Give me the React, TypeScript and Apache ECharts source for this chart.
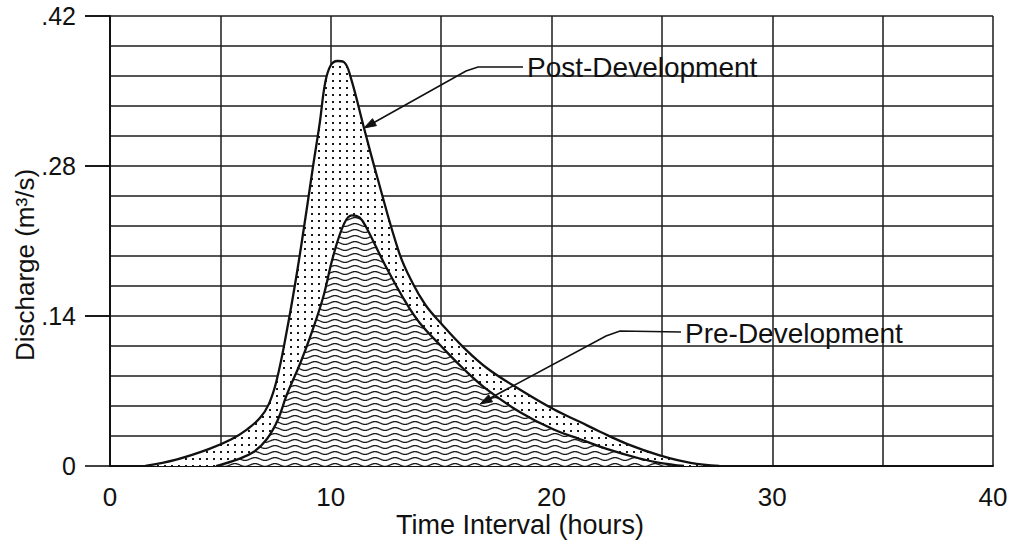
import React, { useEffect, useRef } from 'react';
import * as echarts from 'echarts';

// Post-development hydrograph (time in hours, discharge in m³/s)
const postTime = [1.6, 3.0, 4.5, 5.5, 6.2, 6.8, 7.2, 7.55, 8.0, 8.45, 8.9, 9.2, 9.5, 9.75, 10.0, 10.3, 10.6, 10.9, 11.5, 12.1, 13.1, 13.7, 14.3, 15.0, 16.0, 17.1, 18.6, 20.1, 21.3, 22.2, 23.5, 24.9, 26.3, 27.6];
const postFlow = [0, 0.006, 0.016, 0.025, 0.034, 0.045, 0.058, 0.08, 0.125, 0.178, 0.238, 0.28, 0.32, 0.358, 0.374, 0.378, 0.377, 0.363, 0.316, 0.27, 0.199, 0.171, 0.150, 0.133, 0.111, 0.091, 0.071, 0.053, 0.041, 0.032, 0.020, 0.010, 0.003, 0];

// Pre-development hydrograph
const preTime = [4.8, 5.75, 6.5, 7.1, 7.6, 8.0, 8.6, 9.06, 9.65, 10.1, 10.6, 10.96, 11.3, 11.6, 12.5, 13.45, 14.05, 14.95, 16.0, 17.1, 18.6, 20.1, 21.3, 22.5, 24.0, 24.9, 26.0];
const preFlow = [0, 0.006, 0.013, 0.025, 0.043, 0.066, 0.095, 0.12, 0.157, 0.195, 0.226, 0.234, 0.232, 0.223, 0.186, 0.151, 0.133, 0.113, 0.091, 0.071, 0.050, 0.034, 0.025, 0.016, 0.007, 0.003, 0];

const xTickValues = [0, 10, 20, 30, 40];
const yTickValues = [0, 0.14, 0.28, 0.42];
const yMax = 0.42;

const FONT = '"Liberation Sans", Arial, Helvetica, sans-serif';
const INK = '#111';

const GRID = { left: 110, right: 23, top: 16, bottom: 80 };
const W = 1016;
const H = 546;

function makeDots(): HTMLCanvasElement {
  const c = document.createElement('canvas');
  c.width = 7;
  c.height = 7;
  const g = c.getContext('2d')!;
  g.fillStyle = '#fff';
  g.fillRect(0, 0, 7, 7);
  g.fillStyle = '#1a1a1a';
  g.fillRect(3, 3, 2, 2);
  return c;
}

function makeWaves(): HTMLCanvasElement {
  const w = 20;
  const h = 6;
  const c = document.createElement('canvas');
  c.width = w;
  c.height = h;
  const g = c.getContext('2d')!;
  g.fillStyle = '#fff';
  g.fillRect(0, 0, w, h);
  g.strokeStyle = '#1a1a1a';
  g.lineWidth = 1.3;
  g.beginPath();
  for (let x = 0; x <= w; x += 0.5) {
    const y = 3 + 1.4 * Math.sin((2 * Math.PI * x) / w);
    if (x === 0) g.moveTo(x, y);
    else g.lineTo(x, y);
  }
  g.stroke();
  return c;
}

function arrowHead(tip: number[], from: number[], len = 12, half = 4) {
  const dx = tip[0] - from[0];
  const dy = tip[1] - from[1];
  const l = Math.hypot(dx, dy);
  const ux = dx / l;
  const uy = dy / l;
  const bx = tip[0] - ux * len;
  const by = tip[1] - uy * len;
  return [
    [tip[0], tip[1]],
    [bx - uy * half, by + ux * half],
    [bx + uy * half, by - ux * half],
  ];
}

export default function App() {
  const ref = useRef<HTMLDivElement>(null);
  const tickRef = useRef<HTMLDivElement>(null);

  useEffect(() => {
    if (!ref.current || !tickRef.current) return;
    const chart = echarts.init(ref.current, undefined, { renderer: 'svg' });
    const tickChart = echarts.init(tickRef.current, undefined, { renderer: 'svg' });

    const postData = postTime.map((t, i) => [t, postFlow[i]]);
    const preData = preTime.map((t, i) => [t, preFlow[i]]);

    const postLine = [[523, 67], [478, 67], [466, 71], [366, 127]];
    const postTip = [364, 128];
    const preLine = [[681, 332], [620, 331], [606, 336], [483, 402]];
    const preTip = [480, 404];

    const gridLine = { color: '#1c1c1c', width: 1.5 };

    chart.setOption({
      animation: false,
      grid: { ...GRID },
      xAxis: {
        type: 'value',
        min: 0,
        max: 40,
        interval: 10,
        axisLine: { show: true, lineStyle: { color: INK, width: 2 } },
        axisTick: { show: false },
        axisLabel: {
          margin: 18,
          fontSize: 26,
          fontFamily: FONT,
          color: INK,
          formatter: (v: number) => (xTickValues.includes(v) ? String(v) : ''),
        },
        splitLine: { show: true, lineStyle: { ...gridLine } },
        minorSplitLine: { show: true, lineStyle: { ...gridLine } },
        minorTick: { splitNumber: 2 },
      },
      yAxis: {
        type: 'value',
        min: 0,
        max: yMax,
        interval: 0.14,
        axisLine: { show: true, lineStyle: { color: INK, width: 2 } },
        axisTick: { show: true, length: 25, lineStyle: { color: INK, width: 1.6 } },
        axisLabel: {
          margin: 34,
          fontSize: 25,
          fontFamily: FONT,
          color: INK,
          formatter: (v: number) => {
            const hit = yTickValues.find((t) => Math.abs(t - v) < 1e-6);
            if (hit === undefined) return '';
            return hit === 0 ? '0' : hit.toFixed(2).replace(/^0/, '');
          },
        },
        splitLine: { show: true, lineStyle: { ...gridLine } },
        minorSplitLine: { show: true, lineStyle: { ...gridLine } },
        minorTick: { splitNumber: 5 },
      },
      series: [
        {
          name: 'Post-Development',
          type: 'line',
          data: postData,
          smooth: 0.4,
          symbol: 'none',
          z: 3,
          lineStyle: { color: INK, width: 2.3 },
          areaStyle: { color: { image: makeDots(), repeat: 'repeat' }, opacity: 1 },
        },
        {
          name: 'Pre-Development',
          type: 'line',
          data: preData,
          smooth: 0.4,
          symbol: 'none',
          z: 4,
          lineStyle: { color: INK, width: 2.3 },
          areaStyle: { color: { image: makeWaves(), repeat: 'repeat' }, opacity: 1 },
        },
      ],
      graphic: [
        {
          type: 'text',
          x: 25,
          y: 265,
          rotation: Math.PI / 2,
          style: {
            text: 'Discharge (m³/s)',
            font: `26px ${FONT}`,
            fill: INK,
            align: 'center',
            verticalAlign: 'middle',
          },
          z: 10,
        },
        {
          type: 'text',
          x: 520,
          y: 525,
          style: {
            text: 'Time Interval (hours)',
            font: `27px ${FONT}`,
            fill: INK,
            align: 'center',
            verticalAlign: 'middle',
          },
          z: 10,
        },
        {
          type: 'text',
          x: 527,
          y: 67,
          style: {
            text: 'Post-Development',
            font: `28px ${FONT}`,
            fill: INK,
            align: 'left',
            verticalAlign: 'middle',
          },
          z: 10,
        },
        {
          type: 'text',
          x: 685,
          y: 333,
          style: {
            text: 'Pre-Development',
            font: `28px ${FONT}`,
            fill: INK,
            align: 'left',
            verticalAlign: 'middle',
          },
          z: 10,
        },
        {
          type: 'polyline',
          shape: { points: postLine },
          style: { stroke: INK, lineWidth: 1.6, fill: 'none' },
          z: 10,
        },
        {
          type: 'polygon',
          shape: { points: arrowHead(postTip, postLine[postLine.length - 2]) },
          style: { fill: INK, stroke: INK, lineWidth: 1 },
          z: 10,
        },
        {
          type: 'polyline',
          shape: { points: preLine },
          style: { stroke: INK, lineWidth: 1.6, fill: 'none' },
          z: 10,
        },
        {
          type: 'polygon',
          shape: { points: arrowHead(preTip, preLine[preLine.length - 2]) },
          style: { fill: INK, stroke: INK, lineWidth: 1 },
          z: 10,
        },
      ],
    });

    // Outward y-axis ticks drawn in a transparent overlay chart
    const plotH = H - GRID.top - GRID.bottom;
    const tickY = (v: number) => GRID.top + (1 - v / yMax) * plotH;
    tickChart.setOption({
      animation: false,
      backgroundColor: 'transparent',
      graphic: yTickValues.slice(1).map((v) => ({
        type: 'rect',
        shape: { x: GRID.left - 25, y: tickY(v) - 0.8, width: 25, height: 1.6 },
        style: { fill: INK },
        silent: true,
      })),
    });

    return () => {
      tickChart.dispose();
      chart.dispose();
    };
  }, []);

  return (
    <div style={{ position: 'fixed', left: 0, top: 0, width: W, height: H, background: '#fff' }}>
      <div ref={ref} style={{ position: 'absolute', left: 0, top: 0, width: W, height: H }} />
      <div
        ref={tickRef}
        style={{ position: 'absolute', left: 0, top: 0, width: W, height: H, pointerEvents: 'none' }}
      />
    </div>
  );
}
